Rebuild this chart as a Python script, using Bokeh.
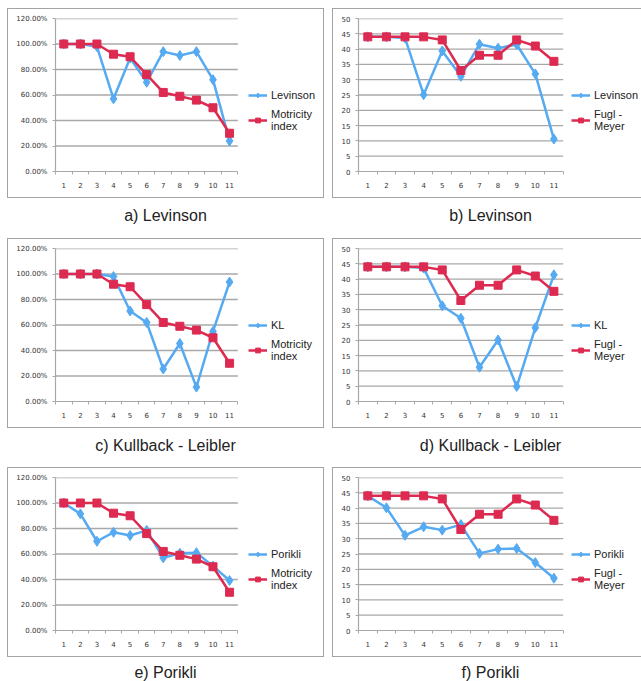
from bokeh.plotting import figure
from bokeh.models import (FixedTicker, NumeralTickFormatter, Legend, LegendItem,
                          Div, Spacer, Range1d)
from bokeh.layouts import column, row
from bokeh.embed import file_html
from bokeh.resources import INLINE

# ---------------- data ----------------
trials = [1, 2, 3, 4, 5, 6, 7, 8, 9, 10, 11]

motricity_index = [1.00, 1.00, 1.00, 0.92, 0.90, 0.76, 0.62, 0.59, 0.56, 0.50, 0.30]
fugl_meyer = [44, 44, 44, 44, 43, 33, 38, 38, 43, 41, 36]

levinson_pct = [1.00, 1.00, 0.98, 0.57, 0.89, 0.70, 0.94, 0.91, 0.94, 0.72, 0.24]
levinson_fm = [44, 44, 43.6, 25.1, 39.4, 31.1, 41.6, 40.3, 41.5, 31.9, 10.6]

kl_pct = [1.00, 1.00, 1.00, 0.98, 0.71, 0.62, 0.255, 0.455, 0.113, 0.55, 0.937]
kl_fm = [44, 44, 44, 43.6, 31.3, 27.2, 11.2, 20.1, 4.9, 24.1, 41.4]

porikli_pct = [1.00, 0.915, 0.70, 0.77, 0.745, 0.785, 0.57, 0.605, 0.61, 0.505, 0.392]
porikli_fm = [44, 40.1, 31.1, 33.9, 32.8, 34.6, 25.2, 26.6, 26.8, 22.2, 17.1]

pct_ticks = [0.0, 0.2, 0.4, 0.6, 0.8, 1.0, 1.2]
score_ticks = [0, 5, 10, 15, 20, 25, 30, 35, 40, 45, 50]

captions = ["a) Levinson", "b) Levinson", "c) Kullback - Leibler",
            "d) Kullback - Leibler", "e) Porikli", "f) Porikli"]

BLUE = "#55aaf2"
RED = "#dd2a50"
GRID = "#a8a8a8"
BOX = "#a3a3a3"
FONT = "Liberation Sans"


def make_panel(blue_vals, red_vals, blue_label, red_label, pct, left_side):
    if left_side:
        outer_w, canvas_w, bl, plot_px, lx = 317, 315, 47, 181, 12
        styles = {"border": "1px solid " + BOX}
    else:
        outer_w, canvas_w, bl, plot_px, lx = 309, 308, 25, 204, 9
        styles = {"border-left": "1px solid " + BOX,
                  "border-top": "1px solid " + BOX,
                  "border-bottom": "1px solid " + BOX}
    frame_px = canvas_w - bl
    n = len(trials)
    x_end = 0.5 + n * frame_px / plot_px      # extra room on the right for legend
    ymax = 1.2 if pct else 50
    ticks = pct_ticks if pct else score_ticks
    p = figure(width=outer_w, height=190, output_backend="svg", toolbar_location=None,
               x_range=Range1d(0.5, x_end), y_range=Range1d(0, ymax),
               min_border_left=bl, min_border_right=0,
               min_border_top=9, min_border_bottom=28,
               styles=styles)
    p.outline_line_color = None
    p.background_fill_color = "white"
    p.border_fill_color = "white"

    # axes
    p.xaxis.ticker = FixedTicker(ticks=trials,
                                 minor_ticks=[t - 0.5 for t in trials] + [n + 0.5])
    p.xaxis.bounds = (0.5, n + 0.5)
    p.xaxis.major_tick_out = 0
    p.xaxis.major_tick_in = 0
    p.xaxis.minor_tick_out = 3
    p.xaxis.minor_tick_in = 0
    p.xaxis.minor_tick_line_color = GRID
    p.xaxis.major_label_standoff = 7
    p.yaxis.ticker = FixedTicker(ticks=ticks)
    if pct:
        p.yaxis.formatter = NumeralTickFormatter(format="0.00%")
    p.yaxis.major_tick_out = 3
    p.yaxis.major_tick_in = 0
    p.yaxis.minor_tick_line_color = None
    p.yaxis.major_label_standoff = 5
    for ax in (p.xaxis, p.yaxis):
        ax.axis_line_color = GRID
        ax.axis_line_width = 1.2
        ax.major_tick_line_color = GRID
        ax.major_label_text_font = "DejaVu Sans"
        ax.major_label_text_font_size = "7px"
        ax.major_label_text_color = "#333333"
    p.xgrid.grid_line_color = None
    p.ygrid.grid_line_color = None

    # horizontal gridlines limited to the category span
    gy = ticks[1:]
    p.segment(x0=[0.5] * len(gy), x1=[n + 0.5] * len(gy), y0=gy, y1=gy,
              line_color=GRID, line_width=1.3, level="underlay")

    # series
    bl_line = p.line(trials, blue_vals, line_color=BLUE, line_width=2.5)
    bl_mark = p.scatter(trials, blue_vals, marker="diamond", size=10,
                        fill_color=BLUE, line_color=BLUE)
    rd_line = p.line(trials, red_vals, line_color=RED, line_width=2.5)
    rd_mark = p.scatter(trials, red_vals, marker="square", size=8,
                        fill_color=RED, line_color=RED)

    legend = Legend(items=[LegendItem(label=blue_label, renderers=[bl_line, bl_mark]),
                           LegendItem(label=red_label, renderers=[rd_line, rd_mark])],
                    location=(plot_px + lx, 39))
    legend.border_line_color = None
    legend.background_fill_alpha = 0
    legend.padding = 0
    legend.margin = 0
    legend.glyph_width = 19
    legend.glyph_height = 12
    legend.label_height = 12
    legend.label_standoff = 4
    legend.spacing = 7
    legend.label_text_font = FONT
    legend.label_text_font_size = "11px"
    legend.label_text_color = "#222222"
    p.add_layout(legend)
    return p


def caption(text, left_side, pad, h):
    w = 317 if left_side else 309
    shift = 0 if left_side else 8
    html = ('<div style="width:%dpx;text-align:center;font-family:%s;font-size:16px;'
            'line-height:16px;color:#222;padding-top:%dpx;padding-left:%dpx;'
            'box-sizing:border-box;">%s</div>'
            % (w, FONT, pad, shift, text))
    return Div(text=html, width=w, height=h, margin=0)


panels = [
    (levinson_pct, motricity_index, "Levinson", "Motricity\nindex", True),
    (levinson_fm, fugl_meyer, "Levinson", "Fugl -\nMeyer", False),
    (kl_pct, motricity_index, "KL", "Motricity\nindex", True),
    (kl_fm, fugl_meyer, "KL", "Fugl -\nMeyer", False),
    (porikli_pct, motricity_index, "Porikli", "Motricity\nindex", True),
    (porikli_fm, fugl_meyer, "Porikli", "Fugl -\nMeyer", False),
]

rows = [Spacer(height=8)]
pads = [10, 10, 8]
cap_h = [40, 39, 24]
for r in range(3):
    cells = [Spacer(width=7)]
    for c in range(2):
        i = r * 2 + c
        b, rd, bl, rl, pct = panels[i]
        fig = make_panel(b, rd, bl, rl, pct, c == 0)
        cells.append(column(fig, caption(captions[i], c == 0, pads[r], cap_h[r])))
        if c == 0:
            cells.append(Spacer(width=8))
    rows.append(row(*cells))

layout = column(*rows)
open("out.html", "w").write(file_html(layout, INLINE))
